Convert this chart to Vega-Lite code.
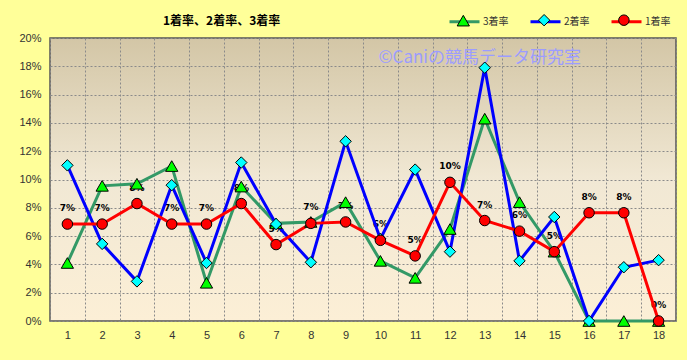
{
  "$schema": "https://vega.github.io/schema/vega-lite/v6.json",
  "width": 626,
  "height": 283,
  "autosize": {"type": "none"},
  "padding": {"left": 50, "top": 38, "right": 11, "bottom": 39},
  "background": "#FFFF99",
  "title": {"text": "1着率、2着率、3着率", "anchor": "start", "frame": "group", "dx": 113, "dy": 33, "offset": 10, "font": "Noto Sans CJK JP", "fontSize": 12, "fontWeight": "bold", "color": "#000000"},
  "config": {
    "view": {
      "stroke": "#555555",
      "strokeWidth": 1.5,
      "fill": {"gradient": "linear", "x1": 0, "y1": 0, "x2": 0, "y2": 1, "stops": [{"offset": 0, "color": "#D3C6A6"}, {"offset": 0.5, "color": "#F1E8D4"}, {"offset": 1, "color": "#FCEFD6"}]}
    },
    "axis": {"labelFont": "Liberation Sans", "labelFontSize": 11, "labelColor": "#333333", "gridColor": "#8A8A8A", "gridDash": [2, 2], "gridWidth": 1, "domain": false, "ticks": false, "title": null}
  },
  "data": {"values": [
    {"n": 1, "s": "3着率", "v": 0.041}, {"n": 2, "s": "3着率", "v": 0.0955}, {"n": 3, "s": "3着率", "v": 0.097}, {"n": 4, "s": "3着率", "v": 0.1095}, {"n": 5, "s": "3着率", "v": 0.027}, {"n": 6, "s": "3着率", "v": 0.095}, {"n": 7, "s": "3着率", "v": 0.069}, {"n": 8, "s": "3着率", "v": 0.07}, {"n": 9, "s": "3着率", "v": 0.084}, {"n": 10, "s": "3着率", "v": 0.0425}, {"n": 11, "s": "3着率", "v": 0.0305}, {"n": 12, "s": "3着率", "v": 0.065}, {"n": 13, "s": "3着率", "v": 0.143}, {"n": 14, "s": "3着率", "v": 0.084}, {"n": 15, "s": "3着率", "v": 0.049}, {"n": 16, "s": "3着率", "v": 0}, {"n": 17, "s": "3着率", "v": 0}, {"n": 18, "s": "3着率", "v": 0},
    {"n": 1, "s": "2着率", "v": 0.11}, {"n": 2, "s": "2着率", "v": 0.0545}, {"n": 3, "s": "2着率", "v": 0.028}, {"n": 4, "s": "2着率", "v": 0.096}, {"n": 5, "s": "2着率", "v": 0.041}, {"n": 6, "s": "2着率", "v": 0.112}, {"n": 7, "s": "2着率", "v": 0.0685}, {"n": 8, "s": "2着率", "v": 0.0415}, {"n": 9, "s": "2着率", "v": 0.127}, {"n": 10, "s": "2着率", "v": 0.058}, {"n": 11, "s": "2着率", "v": 0.107}, {"n": 12, "s": "2着率", "v": 0.049}, {"n": 13, "s": "2着率", "v": 0.179}, {"n": 14, "s": "2着率", "v": 0.0425}, {"n": 15, "s": "2着率", "v": 0.0735}, {"n": 16, "s": "2着率", "v": 0}, {"n": 17, "s": "2着率", "v": 0.038}, {"n": 18, "s": "2着率", "v": 0.043},
    {"n": 1, "s": "1着率", "v": 0.0685}, {"n": 2, "s": "1着率", "v": 0.0685}, {"n": 3, "s": "1着率", "v": 0.083}, {"n": 4, "s": "1着率", "v": 0.0685}, {"n": 5, "s": "1着率", "v": 0.0685}, {"n": 6, "s": "1着率", "v": 0.083}, {"n": 7, "s": "1着率", "v": 0.054}, {"n": 8, "s": "1着率", "v": 0.069}, {"n": 9, "s": "1着率", "v": 0.07}, {"n": 10, "s": "1着率", "v": 0.057}, {"n": 11, "s": "1着率", "v": 0.046}, {"n": 12, "s": "1着率", "v": 0.098}, {"n": 13, "s": "1着率", "v": 0.071}, {"n": 14, "s": "1着率", "v": 0.0635}, {"n": 15, "s": "1着率", "v": 0.049}, {"n": 16, "s": "1着率", "v": 0.0765}, {"n": 17, "s": "1着率", "v": 0.0765}, {"n": 18, "s": "1着率", "v": 0}
  ]},
  "encoding": {
    "x": {"field": "n", "type": "ordinal", "axis": {"labelAngle": 0, "grid": true, "tickBand": "extent", "labelPadding": 8}},
    "y": {"field": "v", "type": "quantitative", "scale": {"domain": [0, 0.2], "nice": false}, "axis": {"values": [0, 0.02, 0.04, 0.06, 0.08, 0.1, 0.12, 0.14, 0.16, 0.18, 0.2], "format": ".0%", "grid": true, "labelPadding": 9}}
  },
  "layer": [
    {
      "transform": [{"filter": "datum.n === 13 && datum.s === '1着率'"}],
      "mark": {"type": "text", "font": "Noto Sans CJK JP", "fontSize": 17, "fill": "#9C9CFF", "align": "center", "baseline": "middle", "dx": -5, "text": "©Caniの競馬データ研究室"},
      "encoding": {"y": {"datum": 0.186}}
    },
    {
      "transform": [{"filter": "datum.s === '1着率'"}],
      "mark": {"type": "text", "font": "DejaVu Sans", "fontSize": 9, "fontWeight": "bold", "color": "#000000", "dy": -16, "baseline": "middle"},
      "encoding": {"text": {"field": "v", "type": "quantitative", "format": ".0%"}}
    },
    {
      "mark": {"type": "line", "strokeWidth": 3},
      "encoding": {
        "stroke": {"field": "s", "type": "nominal", "scale": {"domain": ["3着率", "2着率", "1着率", "-"], "range": ["#339966", "#0000FF", "#FF0000", "#000000"]},
          "legend": {"values": ["3着率", "2着率", "1着率"], "orient": "none", "direction": "horizontal", "title": null, "legendX": 398, "legendY": -33, "symbolType": "stroke", "symbolSize": 900, "symbolStrokeWidth": 3, "labelOffset": 2, "labelFont": "Noto Sans CJK JP", "labelFontSize": 10, "labelColor": "#333333", "columnPadding": 15}}
      }
    },
    {
      "mark": {"type": "point", "filled": true, "opacity": 1, "stroke": "#000000", "strokeWidth": 1},
      "encoding": {
        "fill": {"field": "s", "type": "nominal", "scale": {"domain": ["3着率", "2着率", "1着率"], "range": ["#00FF00", "#00FFFF", "#FF0000"]},
          "legend": {"orient": "none", "direction": "horizontal", "title": null, "legendX": 406.3, "legendY": -24.7, "symbolStrokeColor": "#000000", "symbolStrokeWidth": 1, "labelOffset": 10.3, "labelExpr": "''", "labelFontSize": 10, "columnPadding": 54.3}},
        "shape": {"field": "s", "type": "nominal", "scale": {"domain": ["3着率", "2着率", "1着率"], "range": ["triangle-up", "diamond", "circle"]}},
        "size": {"field": "s", "type": "nominal", "scale": {"domain": ["3着率", "2着率", "1着率"], "range": [150, 110, 180]}}
      }
    }
  ]
}
